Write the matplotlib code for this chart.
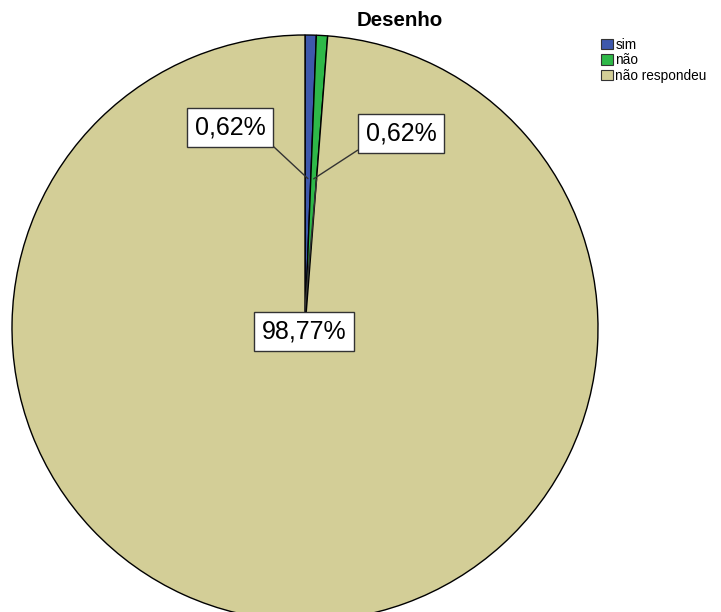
import numpy as np
import matplotlib.pyplot as plt
from matplotlib.patches import Patch

# Data
categories = ['sim', 'não', 'não respondeu']
counts = [1, 1, 160]
pct_labels = ['0,62%', '0,62%', '98,77%']
colors = ['#3e58ac', '#2eb848', '#d3ce97']

W, H = 721, 612


def main():
    plt.rcParams['font.family'] = ['Liberation Sans', 'DejaVu Sans']
    fig = plt.figure(figsize=(W / 100, H / 100), dpi=100)
    ax = fig.add_axes([0, 0, 1, 1])

    cx, cy, r = 305, H - 328, 293
    wedges, _ = ax.pie(counts, colors=colors, startangle=90, counterclock=False,
                       center=(cx, cy), radius=r, frame=True,
                       wedgeprops=dict(edgecolor='black', linewidth=1.0))
    ax.set_xlim(0, W)
    ax.set_ylim(0, H)
    ax.axis('off')

    # label boxes (pixel coords, y from top) and the box corner the leader starts from
    boxes = [((230, 127), (1, 0)), ((401, 133), (0, 0)), ((304, 331), (0.5, 1))]
    for i, w in enumerate(wedges):
        if i < 2:
            ang = np.deg2rad((w.theta1 + w.theta2) / 2)
        else:
            ang = np.deg2rad(w.theta2)
        ax_pt = (cx + 0.51 * r * np.cos(ang), cy + 0.51 * r * np.sin(ang))
        (tx, ty), rel = boxes[i]
        ax.annotate(pct_labels[i], xy=ax_pt, xytext=(tx, H - ty),
                    ha='center', va='center', fontsize=18,
                    bbox=dict(boxstyle='square,pad=0.3', fc='white',
                              ec='#333333', lw=1),
                    arrowprops=dict(arrowstyle='-', color='#333333', lw=1,
                                    shrinkA=0, shrinkB=0, relpos=rel),
                    zorder=5)

    ax.text(400, H - 21, 'Desenho', ha='center', va='center',
            fontsize=14.8, fontweight='bold')

    handles = [Patch(facecolor=c, edgecolor='#333333', lw=0.8) for c in colors]
    ax.legend(handles, categories, loc='upper left',
              bbox_to_anchor=(601 / W, 1 - 38 / H), frameon=False,
              fontsize=9.8, handlelength=0.9, handleheight=0.8,
              handletextpad=0.15, labelspacing=0.1, borderpad=0,
              borderaxespad=0)

    fig.savefig('out.png', dpi=100)


if __name__ == '__main__':
    main()
